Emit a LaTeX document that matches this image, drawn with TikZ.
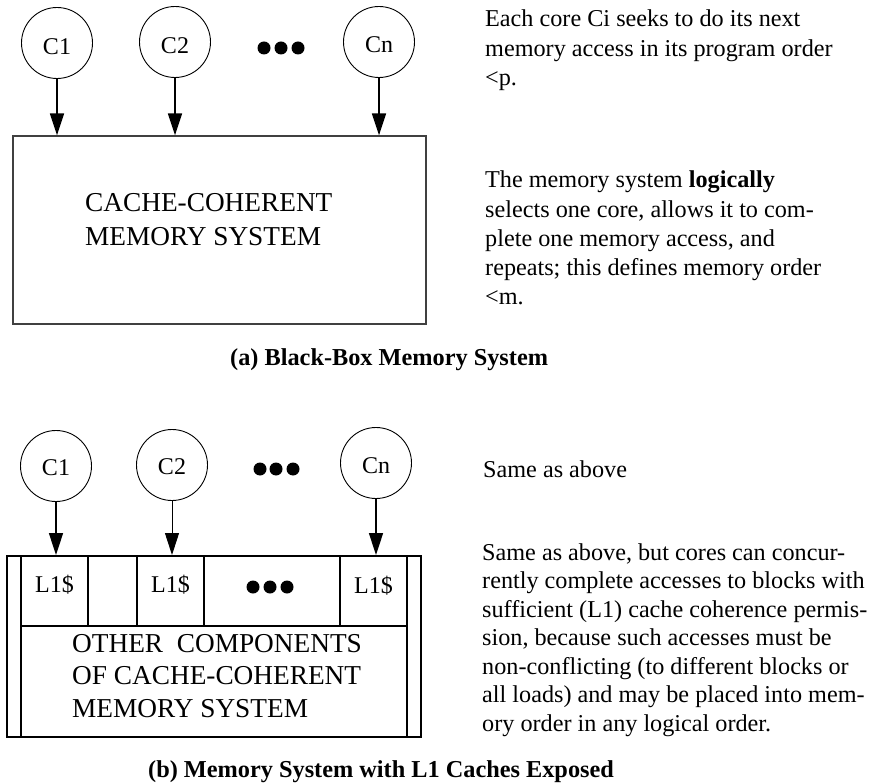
\documentclass[tikz,border=0pt]{standalone}
\usepackage{fontspec}
\setmainfont{Liberation Serif}
\usetikzlibrary{arrows.meta}
\begin{document}
\begin{tikzpicture}[x=1pt,y=-1pt,
 core/.style={circle,draw,line width=0.9pt,minimum size=71pt,inner sep=0pt},
 lbl/.style={font=\fontsize{24}{29}\selectfont,inner sep=0pt,anchor=base},
 txt/.style={font=\fontsize{24.2}{29}\selectfont,inner sep=0pt,anchor=base west},
 big/.style={font=\fontsize{27.3}{33}\selectfont,inner sep=0pt,anchor=base west},
 captext/.style={font=\fontsize{24.3}{29}\selectfont\bfseries,inner sep=0pt,anchor=base west},
 dot/.style={circle,fill,inner sep=0pt,minimum size=13pt},
 arr/.style={line width=1.6pt,-{Triangle[length=22pt,width=14pt]}},
 cell/.style={rectangle,draw,line width=2pt,inner sep=0pt}
]
\useasboundingbox (0,0) rectangle (872,783);

% ---------- (a) ----------
\node[core] (a1) at (57,43) {};
\node[lbl] (a1t) at (57,55) {C1};
\node[core] (a2) at (175,42) {};
\node[lbl] (a2t) at (175,54) {C2};
\node[core] (an) at (379,42) {};
\node[lbl] (ant) at (379,53) {Cn};
\node[dot] (ad1) at (264,48) {};
\node[dot] (ad2) at (281,48) {};
\node[dot] (ad3) at (298,48) {};

\node[rectangle,draw=black!75,line width=1.3pt,minimum width=413pt,minimum height=188pt,inner sep=0pt] (abox) at (219.5,230) {};
\node[big] (abt1) at (85,212) {CACHE-COHERENT};
\node[big] (abt2) at (85,246) {MEMORY SYSTEM};

\draw[arr] (a1.south) -- (a1.south |- abox.north);
\draw[arr] (a2.south) -- (a2.south |- abox.north);
\draw[arr] (an.south) -- (an.south |- abox.north);

\foreach \t [count=\i] in {{Each core Ci seeks to do its next},{memory access in its program order},{<p.}}
  {\node[txt] (pa\i) at (485,{27+29.5*(\i-1)}) {\t};}
\foreach \t [count=\i] in {{The memory system \textbf{logically}},{selects one core, allows it to com-},{plete one memory access, and},{repeats; this defines memory order},{<m.}}
  {\node[txt] (pb\i) at (485,{188+29.2*(\i-1)}) {\t};}

\node[captext] (capa) at (230,365) {(a) Black-Box Memory System};

% ---------- (b) ----------
\node[core] (b1) at (56,466) {};
\node[lbl] (b1t) at (56,475) {C1};
\node[core] (b2) at (172,465) {};
\node[lbl] (b2t) at (172,474) {C2};
\node[core] (bn) at (376,463) {};
\node[lbl] (bnt) at (376,473) {Cn};
\node[dot] (bd1) at (260,469) {};
\node[dot] (bd2) at (276,469) {};
\node[dot] (bd3) at (293,469) {};

\node[cell,minimum width=14pt,minimum height=181pt] (ls) at (14,646.5) {};
\node[cell,minimum width=14pt,minimum height=181pt] (rs) at (414,646.5) {};
\node[cell,minimum width=67pt,minimum height=70pt] (l1) at (54.5,591) {};
\node[cell,minimum width=49pt,minimum height=70pt] (l2) at (112.5,591) {};
\node[cell,minimum width=67pt,minimum height=70pt] (l3) at (170.5,591) {};
\node[cell,minimum width=136pt,minimum height=70pt] (l4) at (272,591) {};
\node[cell,minimum width=67pt,minimum height=70pt] (l5) at (373.5,591) {};
\node[cell,minimum width=386pt,minimum height=111pt] (low) at (214,681.5) {};

\node[lbl] (l1t) at (54.5,592) {L1\$};
\node[lbl] (l3t) at (170.5,592) {L1\$};
\node[lbl] (l5t) at (373.5,593) {L1\$};
\node[dot] (cd1) at (253,587) {};
\node[dot] (cd2) at (270,587) {};
\node[dot] (cd3) at (287,587) {};

\node[big] (lt1) at (72,652) {OTHER\ \ COMPONENTS};
\node[big] (lt2) at (72,684) {OF CACHE-COHERENT};
\node[big] (lt3) at (72,717) {MEMORY SYSTEM};

\draw[arr] (b1.south) -- (b1.south |- l1.north);
\draw[arr,line width=1pt] (b2.south) -- (b2.south |- l3.north);
\draw[arr] (bn.south) -- (bn.south |- l5.north);

\node[txt] (pc1) at (483,477) {Same as above};
\foreach \t [count=\i] in {{Same as above, but cores can concur-},{rently complete accesses to blocks with},{sufficient (L1) cache coherence permis-},{sion, because such accesses must be},{non-conflicting (to different blocks or},{all loads) and may be placed into mem-},{ory order in any logical order.}}
  {\node[txt] (pd\i) at (482,{560+28.5*(\i-1)}) {\t};}

\node[captext] (capb) at (148,777) {(b) Memory System with L1 Caches Exposed};
\end{tikzpicture}
\end{document}
